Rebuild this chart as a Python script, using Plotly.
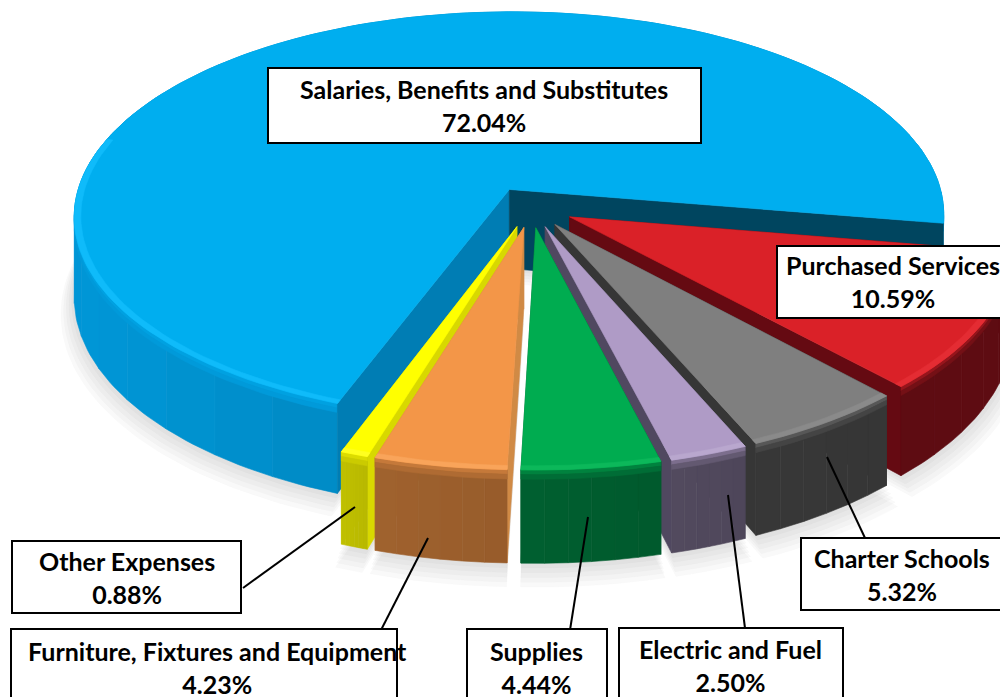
import numpy as np
import plotly.graph_objects as go

# ---- data ----
categories = ["Purchased Services", "Charter Schools", "Electric and Fuel", "Supplies",
              "Furniture, Fixtures and Equipment", "Other Expenses",
              "Salaries, Benefits and Substitutes"]
values = [10.59, 5.32, 2.50, 4.44, 4.23, 0.88, 72.04]

# ---- styling ----
top_colors = ["#DA2128", "#7F7F7F", "#AF9BC6", "#00AC50", "#F39648", "#FFFF00", "#00AEEF"]
rim_colors = ["#E42C33", "#8A8A8A", "#B9A7CE", "#0CB85A", "#F9A45A", "#FFFF20", "#0FBBFA"]
wall_left = ["#5E0C12", "#373737", "#524A5E", "#005F30", "#A0622E", "#C0C000", "#0096D6"]
wall_right = ["#5E0C12", "#363636", "#4E465A", "#005A2D", "#975C2B", "#B8B800", "#0088C0"]
face_start = ["#5E0C12", "#363636", "#4E465A", "#005F30", "#D08A45", "#D8D800", "#007DB4"]
face_end = ["#650A12", "#363636", "#504860", "#005F30", "#D08A45", "#D8D800", "#00455F"]
draw_order = [6, 0, 1, 2, 5, 4, 3]

label_boxes = {  # x0, y0, x1, y1
    "Salaries, Benefits and Substitutes": (268, 68, 701, 143),
    "Purchased Services": (777, 246, 1004, 318),
    "Charter Schools": (801, 538, 1004, 610),
    "Electric and Fuel": (619, 628, 843, 702),
    "Supplies": (467, 629, 607, 702),
    "Furniture, Fixtures and Equipment": (11, 629, 397, 702),
    "Other Expenses": (12, 541, 241, 613),
}
label_text_centers = {
    "Salaries, Benefits and Substitutes": (484, 105),
    "Purchased Services": (893, 281),
    "Charter Schools": (902, 574.5),
    "Electric and Fuel": (730, 665),
    "Supplies": (536, 667),
    "Furniture, Fixtures and Equipment": (217, 667),
    "Other Expenses": (126.5, 577.5),
}
leaders = {
    "Purchased Services": None,
    "Salaries, Benefits and Substitutes": None,
    "Charter Schools": (865, 538, 827, 457),
    "Electric and Fuel": (745, 628, 728, 495),
    "Supplies": (570, 630, 588, 517),
    "Furniture, Fixtures and Equipment": (380, 632, 428, 538),
    "Other Expenses": (243, 588, 355, 507),
}

# ---- projection of the tilted disc ----
CX, CY, RX, RY, K, H = 531.0, 207.0, 436.0, 205.0, 0.13, 80.0
EXPLODE = 0.10
START = 9.5


def project(u, v, d=0.0):
    w = 1 - K * v
    return CX + RX * u / w, CY + (RY * v + H * d) / w


def hexmix(a, b, t):
    ca = [int(a[i:i + 2], 16) for i in (1, 3, 5)]
    cb = [int(b[i:i + 2], 16) for i in (1, 3, 5)]
    c = [round(x + (y - x) * t) for x, y in zip(ca, cb)]
    return "rgb(%d,%d,%d)" % tuple(c)


fig = go.Figure()


def poly(xs, ys, color):
    fig.add_trace(go.Scatter(x=list(xs) + [xs[0]], y=list(ys) + [ys[0]], mode="lines", fill="toself",
                             fillcolor=color, line=dict(color=color, width=0.6),
                             hoverinfo="skip", showlegend=False))


# angles of each slice from the values
total = sum(values)
edges = START + np.cumsum([0] + values) / total * 360.0
slices = []
for i in range(len(values)):
    a0, a1 = edges[i], edges[i + 1]
    mid = np.radians((a0 + a1) / 2)
    slices.append((a0, a1, EXPLODE * np.cos(mid), EXPLODE * np.sin(mid)))


def arc(i, r=1.0, n=None):
    a0, a1, u0, v0 = slices[i]
    n = n or max(6, int((a1 - a0) / 1.5))
    t = np.radians(np.linspace(a0, a1, n))
    return u0 + r * np.cos(t), v0 + r * np.sin(t)


def draw_faces(i):
    a0, a1, u0, v0 = slices[i]
    for ang, col in ((a0, face_start[i]), (a1, face_end[i])):
        uu = u0 + np.cos(np.radians(ang))
        vv = v0 + np.sin(np.radians(ang))
        p = [project(u0, v0), project(uu, vv), project(uu, vv, 1.0), project(u0, v0, 1.0)]
        poly([q[0] for q in p], [q[1] for q in p], col)


def draw_wall(i):
    a0, a1, u0, v0 = slices[i]
    ncol = 30 if i == 6 else 6
    for c in range(ncol):
        ta = a0 + (a1 - a0) * c / ncol
        tb = a0 + (a1 - a0) * (c + 1) / ncol
        t = np.radians(np.linspace(ta, tb, 8))
        us, vs = u0 + np.cos(t), v0 + np.sin(t)
        xt, yt = project(us, vs, 0.0)
        xb, yb = project(us, vs, 1.0)
        xm = float(np.mean(xt))
        frac = float(np.clip((xm - 100) / 300, 0, 1)) if i == 6 else 1 - (c + 0.5) / ncol
        col = hexmix(wall_left[i], wall_right[i], frac)
        poly(np.r_[xt, xb[::-1]], np.r_[yt, yb[::-1]], col)
    # shoulder of the bevel just under the rim
    for d0, d1, tt in ((0.0, 0.05, 0.45), (0.05, 0.10, 0.18)):
        t = np.radians(np.linspace(a0, a1, max(6, int((a1 - a0) / 1.5))))
        us, vs = u0 + np.cos(t), v0 + np.sin(t)
        xt, yt = project(us, vs, d0)
        xb, yb = project(us, vs, d1)
        poly(np.r_[xt, xb[::-1]], np.r_[yt, yb[::-1]], hexmix(wall_left[i], top_colors[i], tt))


# soft ground shadow
for level in range(5, 0, -1):
    for i in draw_order:
        a0, a1, u0, v0 = slices[i]
        us, vs = arc(i, 1 + 0.006 * level)
        us = np.r_[u0, us]
        vs = np.r_[v0, vs]
        x, y = project(us, vs, 1.0)
        y = y + level * 3.0
        poly(x, y, "rgba(0,0,0,0.022)")

# slices, back to front
for i in draw_order:
    a0, a1, u0, v0 = slices[i]
    if i == 6:  # the big slice wraps round the back: its wall lies behind its cut faces
        draw_wall(i)
        draw_faces(i)
    else:
        draw_faces(i)
        draw_wall(i)
    # top surface
    us, vs = arc(i)
    x, y = project(np.r_[u0, us], np.r_[v0, vs])
    poly(x, y, top_colors[i])
    # lighter rim on the part of the edge that faces the viewer
    b0, b1 = a0, min(a1, 195.0)
    if b1 > b0:
        t = np.radians(np.linspace(b0, b1, max(6, int((b1 - b0) / 1.5))))
        xo, yo = project(u0 + np.cos(t), v0 + np.sin(t))
        xi, yi = project(u0 + 0.985 * np.cos(t), v0 + 0.985 * np.sin(t))
        poly(np.r_[xo, xi[::-1]], np.r_[yo, yi[::-1]], rim_colors[i])

# labels
shapes = []
annotations = []
for name, val in zip(categories, values):
    x0, y0, x1, y1 = label_boxes[name]
    if leaders[name]:
        a, b, c, d = leaders[name]
        shapes.append(dict(type="line", x0=a, y0=b, x1=c, y1=d, xref="x", yref="y",
                           line=dict(color="black", width=2), layer="above"))
    shapes.append(dict(type="rect", x0=x0, y0=y0, x1=x1, y1=y1, xref="x", yref="y",
                       fillcolor="white", line=dict(color="black", width=2), layer="above"))
    tx, ty = label_text_centers[name]
    annotations.append(dict(x=tx, y=ty, xref="x", yref="y", showarrow=False, align="center",
                            text=f"<b>{name}<br>{val:.2f}%</b>",
                            font=dict(family="Lato", size=25, color="black")))

fig.update_layout(width=1000, height=697, margin=dict(l=0, r=0, t=0, b=0),
                  paper_bgcolor="white", plot_bgcolor="white", showlegend=False,
                  xaxis=dict(range=[0, 1000], visible=False, fixedrange=True),
                  yaxis=dict(range=[697, 0], visible=False, fixedrange=True),
                  shapes=shapes, annotations=annotations)
fig.write_html("out.html", config={"displayModeBar": False},
               post_script="document.body.style.margin='0';document.documentElement.style.overflow='hidden';")
